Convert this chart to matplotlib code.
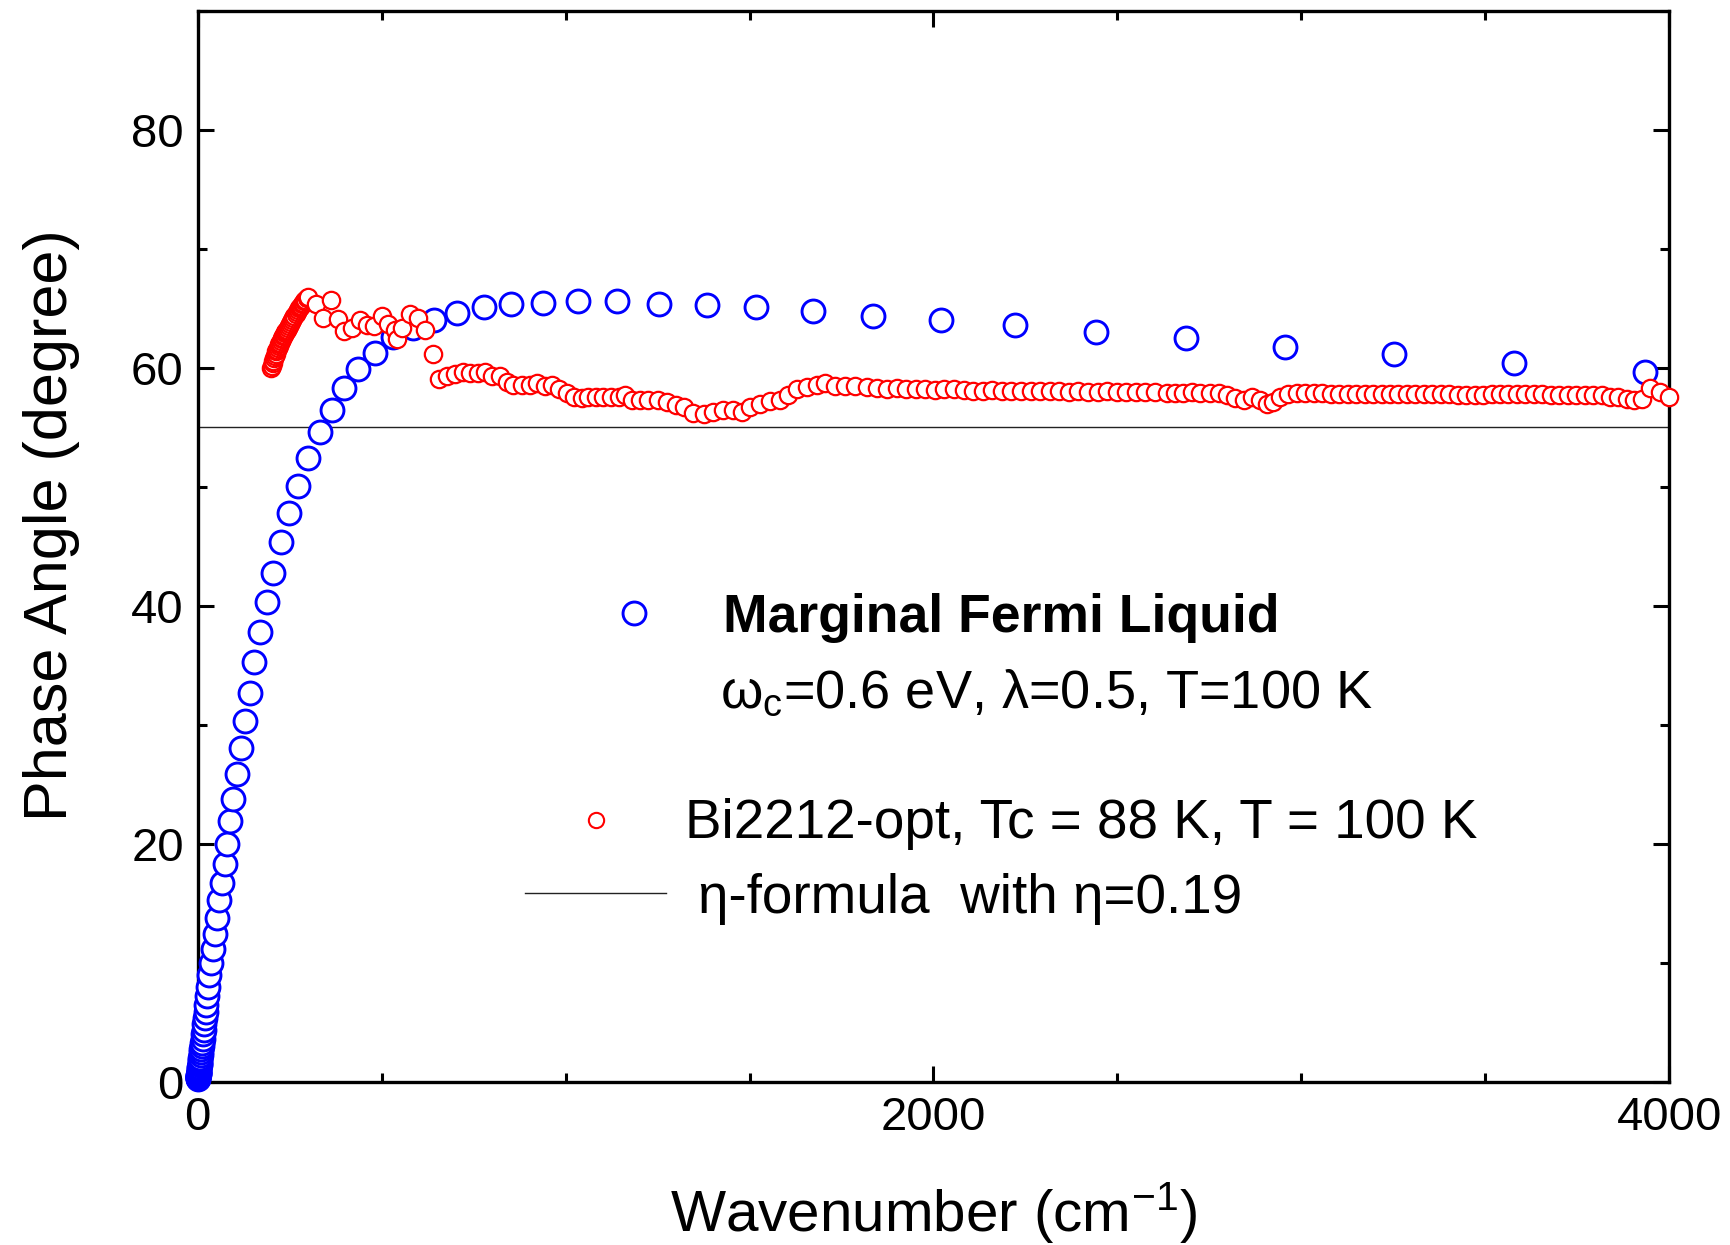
import matplotlib
matplotlib.use("Agg")
import matplotlib.pyplot as plt
from matplotlib.ticker import MultipleLocator

plt.rcParams['font.family'] = ['Liberation Sans', 'DejaVu Sans']
plt.rcParams['mathtext.fontset'] = 'custom'
plt.rcParams['mathtext.rm'] = 'Liberation Sans'

# Marginal Fermi Liquid model: phase angle vs wavenumber
mfl_x = [1.0, 1.1, 1.2, 1.3, 1.5, 1.6, 1.8, 2.0, 2.2, 2.4,
         2.6, 2.9, 3.2, 3.5, 3.8, 4.2, 4.6, 5.1, 5.6, 6.2,
         6.8, 7.5, 8.3, 9.1, 10.0, 11.0, 12.1, 13.3, 14.7, 16.1,
         17.7, 19.5, 21.5, 23.6, 26, 29, 32, 36.5, 41, 46,
         52, 59, 66, 73, 79, 88, 97, 106, 117, 129,
         141, 154, 170, 188, 206, 227, 248, 274, 301, 332,
         364, 399, 436, 483, 531, 585, 642, 705, 777, 852,
         939, 1035, 1140, 1255, 1384, 1519, 1672, 1837, 2020, 2221,
         2443, 2686, 2956, 3253, 3577, 3934]
mfl_y = [0.27, 0.3, 0.33, 0.35, 0.4, 0.45, 0.5, 0.55, 0.6, 0.65,
         0.7, 0.8, 0.85, 0.95, 1.05, 1.15, 1.25, 1.4, 1.55, 1.7,
         1.85, 2.05, 2.25, 2.5, 2.75, 3.0, 3.3, 3.65, 4.0, 4.4,
         4.9, 5.4, 5.9, 6.5, 7.2, 8.0, 9.0, 10.0, 11.2, 12.4,
         13.8, 15.3, 16.7, 18.3, 20.0, 21.9, 23.8, 25.9, 28.1, 30.3,
         32.7, 35.3, 37.8, 40.3, 42.8, 45.4, 47.8, 50.1, 52.4, 54.6,
         56.5, 58.3, 59.9, 61.3, 62.6, 63.4, 64.0, 64.6, 65.1, 65.4,
         65.5, 65.6, 65.6, 65.4, 65.3, 65.1, 64.8, 64.4, 64.0, 63.6,
         63.0, 62.5, 61.8, 61.2, 60.4, 59.7]

# Bi2212 optimally doped, T = 100 K: measured phase angle
bi_x = [200, 202, 204, 206, 208, 210, 212, 214, 216, 218,
        220, 222, 224, 226, 228, 230, 232, 234, 236, 238,
        240, 242, 245, 248, 251, 254, 257, 260, 263, 266,
        269, 272, 275, 278, 281, 284, 287, 290, 293, 296,
        301, 322, 342, 362, 381, 399, 419, 441, 461, 478,
        500, 518, 536, 543, 556, 577, 600, 618, 641, 657,
        677, 700, 722, 740, 763, 781, 799, 822, 840, 858,
        881, 902, 922, 944, 962, 983, 1003, 1023, 1044, 1062,
        1083, 1103, 1123, 1144, 1162, 1180, 1203, 1225, 1250, 1275,
        1300, 1322, 1347, 1375, 1402, 1429, 1456, 1479, 1501, 1529,
        1556, 1583, 1606, 1628, 1656, 1683, 1705, 1733, 1760, 1787,
        1819, 1846, 1873, 1900, 1926, 1952, 1978, 2004, 2030, 2056,
        2082, 2108, 2134, 2160, 2186, 2212, 2238, 2264, 2290, 2316,
        2342, 2368, 2394, 2420, 2446, 2472, 2498, 2524, 2550, 2576,
        2602, 2634, 2657, 2679, 2702, 2725, 2752, 2775, 2797, 2820,
        2843, 2866, 2888, 2906, 2924, 2943, 2965, 2988, 3011, 3034,
        3057, 3080, 3103, 3126, 3149, 3172, 3195, 3218, 3241, 3264,
        3287, 3310, 3333, 3356, 3379, 3402, 3425, 3448, 3471, 3494,
        3517, 3540, 3563, 3586, 3609, 3632, 3655, 3678, 3701, 3724,
        3747, 3770, 3793, 3816, 3839, 3862, 3885, 3905, 3925, 3948,
        3975, 4000]
bi_y = [60.0, 60.2, 60.4, 60.6, 60.8, 61.0, 61.2, 61.4, 61.55, 61.7,
        61.85, 62.0, 62.1, 62.25, 62.4, 62.5, 62.65, 62.75, 62.9, 63.0,
        63.1, 63.2, 63.4, 63.55, 63.7, 63.9, 64.05, 64.2, 64.35, 64.5,
        64.7, 64.85, 65.0, 65.1, 65.25, 65.4, 65.5, 65.6, 65.75, 65.85,
        66.0, 65.4, 64.2, 65.7, 64.1, 63.1, 63.4, 64.0, 63.6, 63.5,
        64.4, 63.7, 63.2, 62.4, 63.4, 64.5, 64.2, 63.2, 61.2, 59.1,
        59.3, 59.5, 59.7, 59.6, 59.6, 59.7, 59.3, 59.3, 58.8, 58.6,
        58.6, 58.6, 58.7, 58.5, 58.6, 58.2, 57.9, 57.6, 57.5, 57.6,
        57.6, 57.6, 57.6, 57.6, 57.7, 57.3, 57.3, 57.3, 57.3, 57.1,
        56.9, 56.7, 56.2, 56.1, 56.3, 56.5, 56.5, 56.3, 56.7, 57.0,
        57.2, 57.3, 57.7, 58.2, 58.4, 58.6, 58.7, 58.5, 58.5, 58.5,
        58.4, 58.3, 58.2, 58.3, 58.2, 58.25, 58.2, 58.15, 58.2, 58.2,
        58.15, 58.1, 58.1, 58.15, 58.1, 58.1, 58.05, 58.1, 58.1, 58.1,
        58.05, 58.0, 58.05, 58.0, 58.0, 58.05, 58.0, 58.0, 57.95, 58.0,
        58.0, 57.9, 57.9, 57.9, 57.95, 57.9, 57.9, 57.9, 57.7, 57.5,
        57.3, 57.6, 57.3, 57.0, 57.1, 57.6, 57.8, 57.9, 57.9, 57.9,
        57.9, 57.8, 57.8, 57.8, 57.85, 57.8, 57.8, 57.8, 57.8, 57.8,
        57.8, 57.8, 57.8, 57.8, 57.8, 57.8, 57.7, 57.7, 57.7, 57.7,
        57.8, 57.8, 57.8, 57.8, 57.8, 57.8, 57.8, 57.7, 57.7, 57.7,
        57.7, 57.7, 57.7, 57.7, 57.6, 57.6, 57.4, 57.3, 57.4, 58.3,
        58.0, 57.6]

# eta-formula with eta = 0.19 gives a constant phase angle
eta_phase = 55.0

x_ticks = [0, 2000, 4000]
y_ticks = [0, 20, 40, 60, 80]

fig = plt.figure(figsize=(17.31, 12.45), dpi=100)
ax = fig.add_axes([0.1142, 0.1309, 0.8501, 0.8603])

ax.axhline(eta_phase, color='#222222', lw=1.0, zorder=1)
ax.plot(mfl_x, mfl_y, 'o', ms=16.5, mfc='white', mec='#0000ff', mew=2.1,
        ls='none', clip_on=False, zorder=3)
ax.plot(bi_x, bi_y, 'o', ms=12.5, mfc='white', mec='#ff0000', mew=1.6,
        ls='none', clip_on=False, zorder=4)

ax.set_xlim(0, 4000)
ax.set_ylim(0, 90)
ax.set_xticks(x_ticks)
ax.set_yticks(y_ticks)
ax.xaxis.set_minor_locator(MultipleLocator(500))
ax.yaxis.set_minor_locator(MultipleLocator(10))
ax.tick_params(which='both', direction='in', top=True, right=True, width=2.2)
ax.tick_params(which='major', length=11.5, labelsize=34, pad=10)
ax.tick_params(which='minor', length=6.5)
for s in ax.spines.values():
    s.set_linewidth(2.4)

fig.text(0.030, 0.578, 'Phase Angle (degree)', rotation=90, fontsize=44,
         ha='center', va='center')
fig.text(0.5392, 0.0110, r'Wavenumber (cm$\mathregular{^{-1}}$)', fontsize=42,
         ha='center', va='baseline')

# in-plot key
ax.plot([1186], [39.4], 'o', ms=16.5, mfc='white', mec='#0000ff', mew=2.1)
ax.text(1428, 37.8, 'Marginal Fermi Liquid', fontsize=38.5, fontweight='bold',
        ha='left', va='baseline')
ax.text(1420, 31.5, r'$\mathregular{\omega_c}$=0.6 eV, λ=0.5, T=100 K', fontsize=39,
        ha='left', va='baseline')
ax.plot([1082], [22.0], 'o', ms=11, mfc='white', mec='#ff0000', mew=1.5)
ax.text(1325, 20.5, 'Bi2212-opt, Tc = 88 K, T = 100 K', fontsize=39.5,
        ha='left', va='baseline')
ax.plot([891, 1273], [15.9, 15.9], color='#222222', lw=1.0)
ax.text(1360, 14.2, 'η-formula  with η=0.19', fontsize=39.5,
        ha='left', va='baseline')

fig.savefig('out.png', dpi=100)
